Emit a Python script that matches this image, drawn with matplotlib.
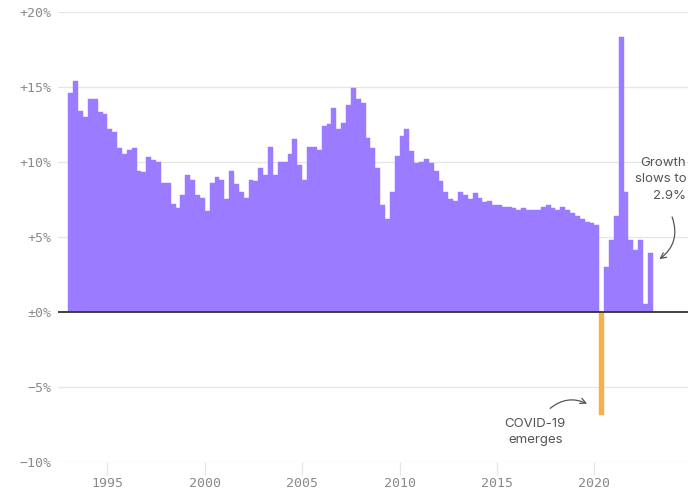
"""
Quarterly year-over-year growth, 1993-2022, with COVID dip highlighted.
"""

import matplotlib

matplotlib.use("Agg")
import matplotlib.pyplot as plt
import numpy as np

PURPLE = "#9b7bff"
ORANGE = "#f6b149"
GRID = "#e6e6e6"
TICK_TXT = "#8a8a8a"
NOTE_TXT = "#555555"

# quarterly growth (%)
years = list(range(1993, 2023))
growth = [
    14.6, 15.4, 13.4, 13.0,   # 1993
    14.2, 14.2, 13.3, 13.2,   # 1994
    12.2, 12.0, 10.9, 10.5,   # 1995
    10.8, 10.9, 9.4, 9.3,     # 1996
    10.3, 10.1, 10.0, 8.6,    # 1997
    8.6, 7.2, 6.9, 7.8,       # 1998
    9.1, 8.8, 7.8, 7.6,       # 1999
    6.7, 8.6, 9.0, 8.8,       # 2000
    7.5, 9.4, 8.5, 8.0,       # 2001
    7.6, 8.8, 8.7, 9.6,       # 2002
    9.1, 11.0, 9.1, 10.0,     # 2003
    10.0, 10.5, 11.5, 9.8,    # 2004
    8.8, 11.0, 11.0, 10.8,    # 2005
    12.4, 12.5, 13.6, 12.2,   # 2006
    12.6, 13.8, 14.9, 14.2,   # 2007
    13.9, 11.6, 10.9, 9.6,    # 2008
    7.1, 6.2, 8.0, 10.4,      # 2009
    11.7, 12.2, 10.7, 9.9,    # 2010
    10.0, 10.2, 9.9, 9.4,     # 2011
    8.7, 8.0, 7.5, 7.4,       # 2012
    8.0, 7.8, 7.5, 7.9,       # 2013
    7.6, 7.3, 7.4, 7.1,       # 2014
    7.1, 7.0, 7.0, 6.9,       # 2015
    6.8, 6.9, 6.8, 6.8,       # 2016
    6.8, 7.0, 7.1, 6.9,       # 2017
    6.8, 7.0, 6.8, 6.6,       # 2018
    6.4, 6.2, 6.0, 5.9,       # 2019
    5.8, -6.9, 3.0, 4.8,      # 2020
    6.4, 18.3, 8.0, 4.8,      # 2021
    4.1, 4.8, 0.5, 3.9,       # 2022
]

y_ticks = [-10, -5, 0, 5, 10, 15, 20]
y_labels = ["\u221210%", "\u22125%", "\u00b10%", "+5%", "+10%", "+15%", "+20%"]
x_ticks = [1995, 2000, 2005, 2010, 2015, 2020]


def main():
    vals = np.array(growth)
    starts = np.repeat(years, 4) + np.tile(np.arange(4) / 4.0, len(years))
    colors = [ORANGE if v < 0 else PURPLE for v in vals]

    fig = plt.figure(figsize=(7.0, 4.95), dpi=100)
    ax = fig.add_axes([0.083, 0.0667, 0.9, 0.9096])

    ax.bar(starts, vals, width=0.25, align="edge", color=colors,
           edgecolor=colors, linewidth=0.3, zorder=2)

    ax.set_xlim(1992.47, 2024.81)
    ax.set_ylim(-10, 20)

    ax.set_yticks(y_ticks)
    ax.set_yticklabels(y_labels)
    ax.set_xticks(x_ticks)
    ax.set_xticklabels([str(x) for x in x_ticks])

    for y in y_ticks:
        if y != 0:
            ax.axhline(y, color=GRID, linewidth=0.9, zorder=0)
    ax.axhline(0, color="#333333", linewidth=1.3, zorder=3)

    for s in ax.spines.values():
        s.set_visible(False)

    ax.tick_params(axis="y", length=0, pad=5, labelsize=9.5,
                   labelcolor=TICK_TXT)
    ax.tick_params(axis="x", length=9, width=0.9, color=GRID, pad=2,
                   labelsize=9.5, labelcolor=TICK_TXT)
    for lab in ax.get_xticklabels() + ax.get_yticklabels():
        lab.set_family("DejaVu Sans Mono")

    note_font = dict(family="Inter", fontsize=9.5, color=NOTE_TXT,
                     linespacing=1.5)

    ax.text(2024.72, 8.85, "Growth\nslows to\n2.9%", ha="right",
            va="center", **note_font)
    ax.annotate("", xy=(2023.22, 3.4), xytext=(2023.94, 6.5),
                arrowprops=dict(arrowstyle="->", color=NOTE_TXT, lw=0.9,
                                connectionstyle="arc3,rad=-0.4"))

    ax.text(2016.96, -8.0, "COVID-19\nemerges", ha="center", va="center",
            **note_font)
    ax.annotate("", xy=(2019.75, -6.2), xytext=(2017.62, -6.55),
                arrowprops=dict(arrowstyle="->", color=NOTE_TXT, lw=0.9,
                                connectionstyle="arc3,rad=-0.35"))

    fig.savefig("out.png", dpi=100, facecolor="white")
    plt.close(fig)


if __name__ == "__main__":
    main()
